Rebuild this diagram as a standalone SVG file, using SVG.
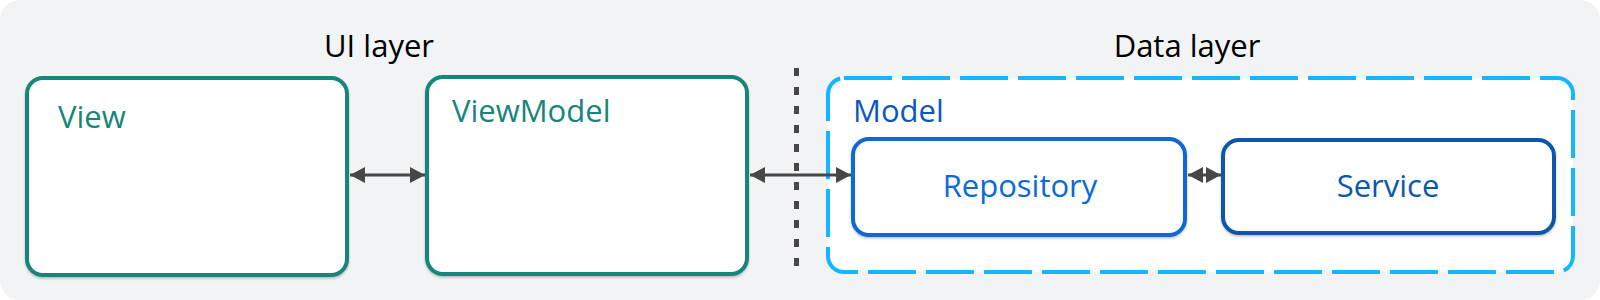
<svg xmlns="http://www.w3.org/2000/svg" width="1600" height="300" viewBox="0 0 1600 300">
  <style>
    .lbl { font-family: "Open Sans", "Liberation Sans", sans-serif; font-size: 31px; }
    .title { fill: #000000; }
    .teal { fill: #16857A; }
    .tealbox { fill: #FFFFFF; stroke: #16857A; stroke-width: 4; }
    .conn { stroke: #474747; stroke-width: 3; fill: none; }
  </style>
  <defs>
    <marker id="ah" viewBox="0 0 15 16" refX="15" refY="8" markerWidth="15" markerHeight="16" markerUnits="userSpaceOnUse" orient="auto-start-reverse">
      <path d="M0,0 L15,8 L0,16 Z" fill="#474747"/>
    </marker>
    <filter id="sh" x="-5%" y="-5%" width="110%" height="115%">
      <feDropShadow dx="0" dy="1.5" stdDeviation="1" flood-color="#000000" flood-opacity="0.25"/>
    </filter>
  </defs>
  <rect x="0" y="0" width="1600" height="300" rx="20" fill="#F1F3F4"/>
  <text class="lbl title" x="379" y="57" text-anchor="middle">UI layer</text>
  <text class="lbl title" x="1187" y="57" text-anchor="middle">Data layer</text>
  <line x1="796.5" y1="68" x2="796.5" y2="268" stroke="#474747" stroke-width="5" stroke-dasharray="8 11"/>

  <g id="view">
    <rect class="tealbox" x="27" y="78" width="320" height="197" rx="16" filter="url(#sh)"/>
    <text class="lbl teal" x="58" y="128">View</text>
  </g>
  <g id="viewmodel">
    <rect class="tealbox" x="427" y="77" width="320" height="197" rx="16" filter="url(#sh)"/>
    <text class="lbl teal" x="452" y="122">ViewModel</text>
  </g>
  <g id="model">
    <rect x="828" y="78" width="745" height="194" rx="16" fill="#FFFFFF" stroke="#12B7FF" stroke-width="4" stroke-dasharray="48 10"/>
    <text class="lbl" x="853" y="122" fill="#0B57C0">Model</text>
  </g>
  <g id="repository">
    <rect x="853" y="139" width="332" height="96" rx="16" fill="#FFFFFF" stroke="#0B69D9" stroke-width="4" filter="url(#sh)"/>
    <text class="lbl" x="1020" y="197" text-anchor="middle" fill="#0B69D9">Repository</text>
  </g>
  <g id="service">
    <rect x="1223" y="140" width="331" height="93" rx="16" fill="#FFFFFF" stroke="#0B57B0" stroke-width="4" filter="url(#sh)"/>
    <text class="lbl" x="1388" y="197" text-anchor="middle" fill="#0B57B0">Service</text>
  </g>

  <g id="connectors">
    <line class="conn" x1="350" y1="175" x2="425" y2="175" marker-start="url(#ah)" marker-end="url(#ah)"/>
    <line class="conn" x1="750" y1="175" x2="851" y2="175" marker-start="url(#ah)" marker-end="url(#ah)"/>
    <line class="conn" x1="1188" y1="175" x2="1221" y2="175" marker-start="url(#ah)" marker-end="url(#ah)"/>
  </g>
</svg>
